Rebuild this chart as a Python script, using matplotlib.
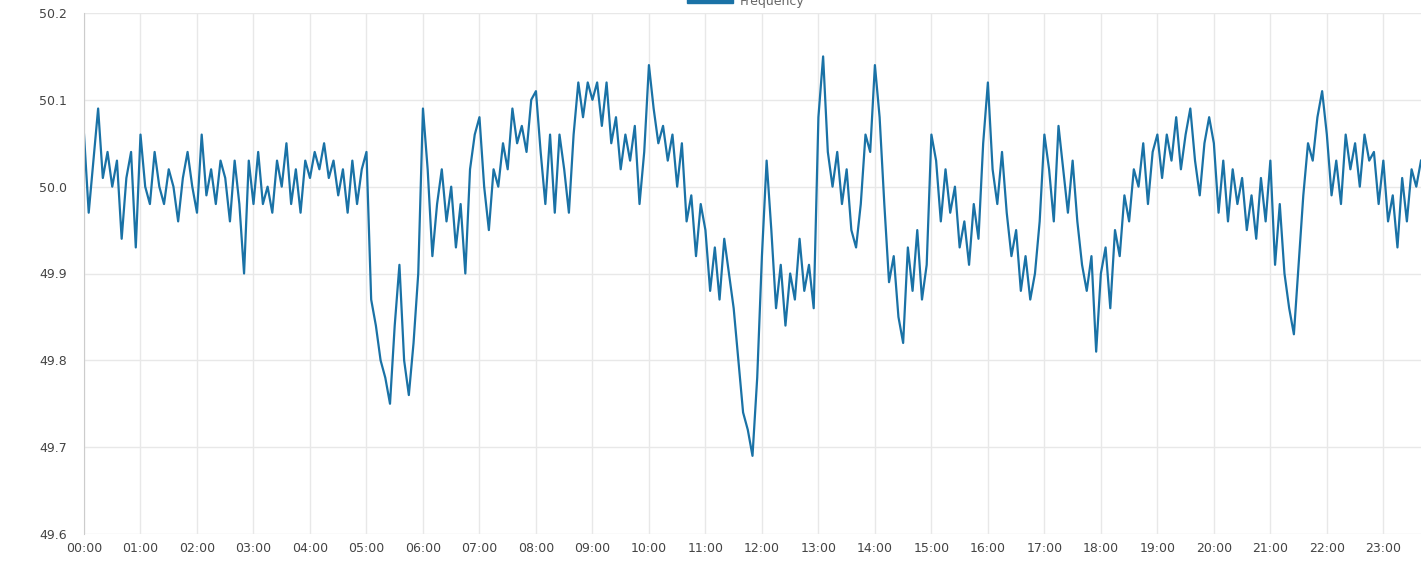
import matplotlib
matplotlib.use('Agg')
import matplotlib.pyplot as plt
import matplotlib.patches as mpatches
import numpy as np

# grid frequency, 5-minute readings (Hz), 00:00 .. 23:40
freq = [
    50.06, 49.97, 50.03, 50.09, 50.01, 50.04, 50.00, 50.03, 49.94, 50.01, 50.04, 49.93,
    50.06, 50.00, 49.98, 50.04, 50.00, 49.98, 50.02, 50.00, 49.96, 50.01, 50.04, 50.00,
    49.97, 50.06, 49.99, 50.02, 49.98, 50.03, 50.01, 49.96, 50.03, 49.98, 49.90, 50.03,
    49.98, 50.04, 49.98, 50.00, 49.97, 50.03, 50.00, 50.05, 49.98, 50.02, 49.97, 50.03,
    50.01, 50.04, 50.02, 50.05, 50.01, 50.03, 49.99, 50.02, 49.97, 50.03, 49.98, 50.02,
    50.04, 49.87, 49.84, 49.80, 49.78, 49.75, 49.84, 49.91, 49.80, 49.76, 49.82, 49.90,
    50.09, 50.02, 49.92, 49.98, 50.02, 49.96, 50.00, 49.93, 49.98, 49.90, 50.02, 50.06,
    50.08, 50.00, 49.95, 50.02, 50.00, 50.05, 50.02, 50.09, 50.05, 50.07, 50.04, 50.10,
    50.11, 50.04, 49.98, 50.06, 49.97, 50.06, 50.02, 49.97, 50.06, 50.12, 50.08, 50.12,
    50.10, 50.12, 50.07, 50.12, 50.05, 50.08, 50.02, 50.06, 50.03, 50.07, 49.98, 50.04,
    50.14, 50.09, 50.05, 50.07, 50.03, 50.06, 50.00, 50.05, 49.96, 49.99, 49.92, 49.98,
    49.95, 49.88, 49.93, 49.87, 49.94, 49.90, 49.86, 49.80, 49.74, 49.72, 49.69, 49.78,
    49.92, 50.03, 49.95, 49.86, 49.91, 49.84, 49.90, 49.87, 49.94, 49.88, 49.91, 49.86,
    50.08, 50.15, 50.04, 50.00, 50.04, 49.98, 50.02, 49.95, 49.93, 49.98, 50.06, 50.04,
    50.14, 50.08, 49.98, 49.89, 49.92, 49.85, 49.82, 49.93, 49.88, 49.95, 49.87, 49.91,
    50.06, 50.03, 49.96, 50.02, 49.97, 50.00, 49.93, 49.96, 49.91, 49.98, 49.94, 50.05,
    50.12, 50.02, 49.98, 50.04, 49.97, 49.92, 49.95, 49.88, 49.92, 49.87, 49.90, 49.96,
    50.06, 50.02, 49.96, 50.07, 50.02, 49.97, 50.03, 49.96, 49.91, 49.88, 49.92, 49.81,
    49.90, 49.93, 49.86, 49.95, 49.92, 49.99, 49.96, 50.02, 50.00, 50.05, 49.98, 50.04,
    50.06, 50.01, 50.06, 50.03, 50.08, 50.02, 50.06, 50.09, 50.03, 49.99, 50.05, 50.08,
    50.05, 49.97, 50.03, 49.96, 50.02, 49.98, 50.01, 49.95, 49.99, 49.94, 50.01, 49.96,
    50.03, 49.91, 49.98, 49.90, 49.86, 49.83, 49.91, 49.99, 50.05, 50.03, 50.08, 50.11,
    50.06, 49.99, 50.03, 49.98, 50.06, 50.02, 50.05, 50.00, 50.06, 50.03, 50.04, 49.98,
    50.03, 49.96, 49.99, 49.93, 50.01, 49.96, 50.02, 50.00, 50.03,
]
hours = np.arange(len(freq)) * 5 / 60.0
tick_labels = ['%02d:00' % h for h in range(24)]
y_ticks = [49.6, 49.7, 49.8, 49.9, 50.0, 50.1, 50.2]

fig = plt.figure(figsize=(14.21, 5.67), dpi=100)
ax = fig.add_axes([84 / 1421, 1 - 534 / 567, 1 - 84 / 1421, (534 - 13) / 567])

ax.plot(hours, freq, color='#1a72a6', lw=1.6)

ax.set_xlim(0, hours[-1])
ax.set_ylim(49.6, 50.2)
ax.set_xticks(range(24))
ax.set_xticklabels(tick_labels)
ax.set_yticks(y_ticks)
ax.set_yticklabels(['%.1f' % v for v in y_ticks])
ax.grid(True, color='#e8e8e8', lw=1)
ax.set_axisbelow(True)
for s in ['top', 'right', 'bottom']:
    ax.spines[s].set_visible(False)
ax.spines['left'].set_color('#cccccc')
ax.tick_params(length=0, labelsize=9, colors='#444444', pad=6)
ax.tick_params(axis='y', pad=12)

# legend, cut off at the top edge as in the original
fig.patches.append(mpatches.Rectangle((687 / 1421, 1 - 3 / 567), 46 / 1421, 10 / 567,
                                      transform=fig.transFigure, color='#1a72a6'))
fig.text(740 / 1421, 1 - 1 / 567, 'Frequency', fontsize=9, color='#666666', va='center')

fig.savefig('out.png', dpi=100)
